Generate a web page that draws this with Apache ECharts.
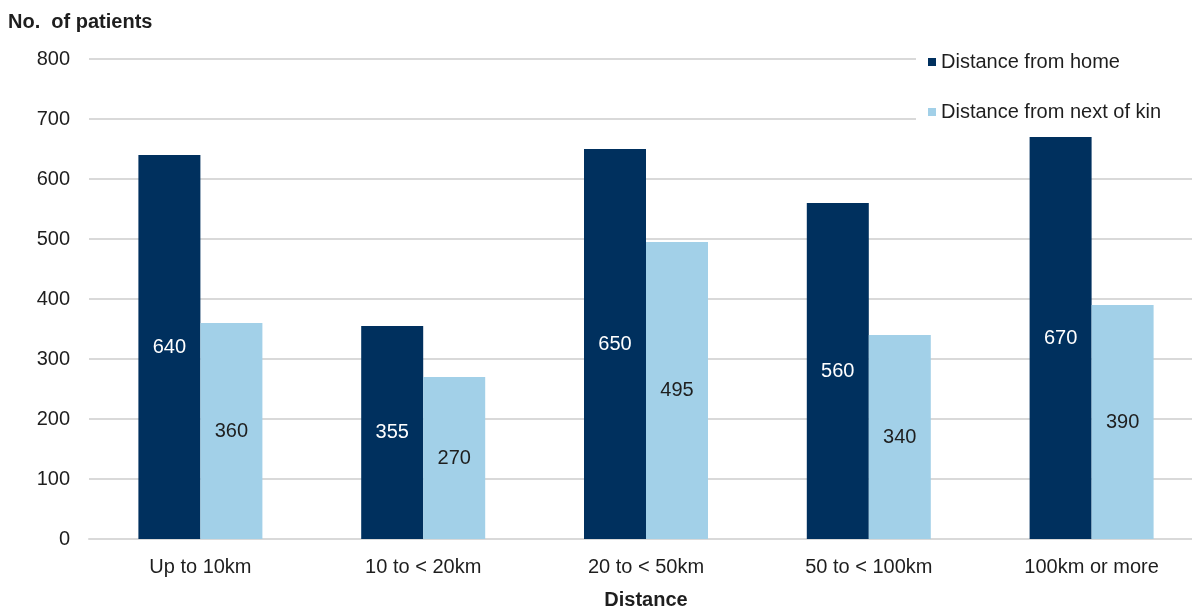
<!DOCTYPE html>
<html>
<head>
<meta charset="utf-8">
<title>No. of patients by distance</title>
<script src="https://cdn.jsdelivr.net/npm/echarts@6/dist/echarts.min.js"></script>
<style>
  html, body { margin: 0; padding: 0; background: #ffffff; }
  #chart { width: 1192px; height: 610px; }
</style>
</head>
<body>
<div id="chart"></div>
<script>
// Distance bands on the category axis
const categories = ['Up to 10km', '10 to < 20km', '20 to < 50km', '50 to < 100km', '100km or more'];
// Patients by distance from home
const homeValues = [640, 355, 650, 560, 670];
// Patients by distance from next of kin
const kinValues = [360, 270, 495, 340, 390];
// Value axis range
const yMin = 0;
const yMax = 800;
const yStep = 100;

const FONT = "'Liberation Sans', Arial, sans-serif";
const TEXT = '#1e1e1e';
const DARK = '#00305e';
const LIGHT = '#a2d0e8';
const GRID_LINE = '#d9d9d9';

const chart = echarts.init(document.getElementById('chart'), null, { renderer: 'canvas' });

chart.setOption({
  animation: false,
  backgroundColor: '#ffffff',
  textStyle: { fontFamily: FONT },
  grid: {
    left: 89,
    top: 59,
    width: 1114,
    height: 480,
    containLabel: false,
    outerBoundsMode: 'none'
  },
  legend: {
    orient: 'vertical',
    left: 916,
    top: 40,
    padding: [12, 40, 12, 12],
    backgroundColor: '#ffffff',
    itemWidth: 8,
    itemHeight: 8,
    itemGap: 30,
    icon: 'rect',
    textStyle: { fontFamily: FONT, fontSize: 20, color: TEXT },
    data: ['Distance from home', 'Distance from next of kin']
  },
  xAxis: {
    type: 'category',
    data: categories,
    axisLine: { show: true, lineStyle: { color: GRID_LINE, width: 2 } },
    axisTick: { show: false },
    axisLabel: { margin: 18, fontFamily: FONT, fontSize: 20, color: TEXT }
  },
  yAxis: {
    type: 'value',
    min: yMin,
    max: yMax,
    interval: yStep,
    axisLine: { show: false },
    axisTick: { show: false },
    splitLine: { lineStyle: { color: GRID_LINE, width: 2 } },
    axisLabel: { margin: 19, fontFamily: FONT, fontSize: 20, color: TEXT }
  },
  series: [
    {
      name: 'Distance from home',
      type: 'bar',
      data: homeValues,
      barWidth: 62,
      barGap: '0%',
      itemStyle: { color: DARK },
      label: {
        show: true,
        position: 'inside',
        fontFamily: FONT,
        fontSize: 20,
        color: '#ffffff'
      }
    },
    {
      name: 'Distance from next of kin',
      type: 'bar',
      data: kinValues,
      barWidth: 62,
      barGap: '0%',
      itemStyle: { color: LIGHT },
      label: {
        show: true,
        position: 'inside',
        fontFamily: FONT,
        fontSize: 20,
        color: TEXT
      }
    }
  ],
  graphic: [
    {
      type: 'text',
      x: 8,
      y: 22,
      z: 100,
      style: {
        text: 'No.  of patients',
        font: "bold 20px 'Liberation Sans', Arial, sans-serif",
        fill: TEXT,
        textAlign: 'left',
        textVerticalAlign: 'middle'
      }
    },
    {
      type: 'text',
      x: 646,
      y: 600,
      z: 100,
      style: {
        text: 'Distance',
        font: "bold 20px 'Liberation Sans', Arial, sans-serif",
        fill: TEXT,
        textAlign: 'center',
        textVerticalAlign: 'middle'
      }
    }
  ]
});
</script>
</body>
</html>
